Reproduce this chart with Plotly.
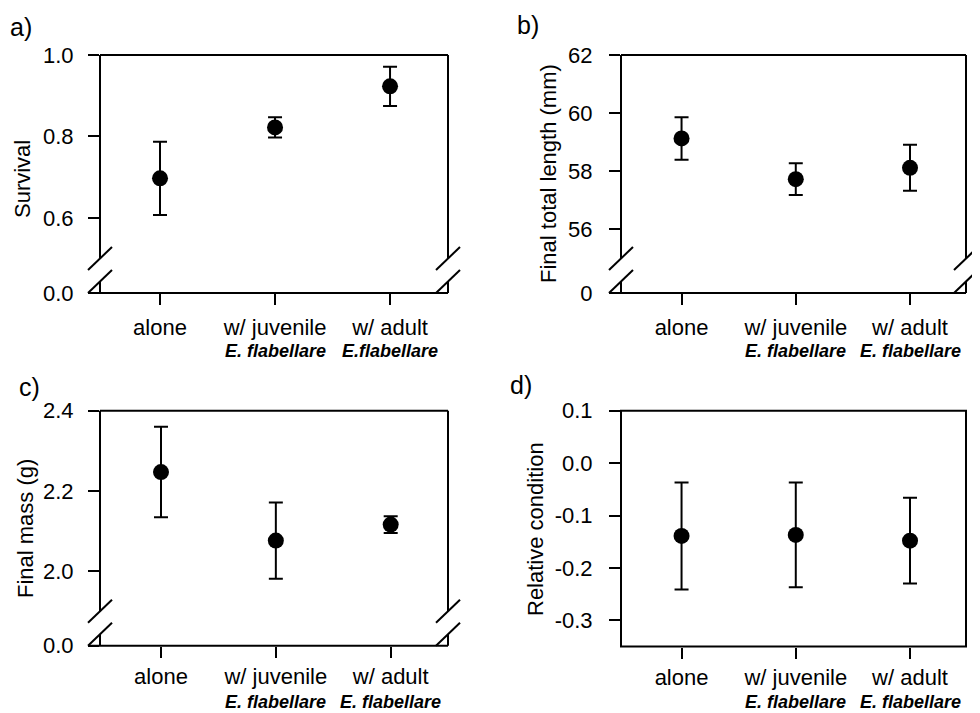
import plotly.graph_objects as go

# ---------------- data ----------------
groups = ["alone", "w/ juvenile", "w/ adult"]
species_a = ["", "E. flabellare", "E.flabellare"]
species_bcd = ["", "E. flabellare", "E. flabellare"]

survival_mean = [0.697, 0.822, 0.923]
survival_se = [0.090, 0.025, 0.048]

length_mean = [59.13, 57.73, 58.12]
length_se = [0.73, 0.55, 0.79]

mass_mean = [2.247, 2.076, 2.116]
mass_se = [0.113, 0.095, 0.021]

condition_mean = [-0.139, -0.137, -0.148]
condition_se = [0.102, 0.100, 0.082]

survival_ticks = [0.6, 0.8, 1.0]
length_ticks = [56, 58, 60, 62]
mass_ticks = [2.0, 2.2, 2.4]
condition_ticks = [0.1, 0.0, -0.1, -0.2, -0.3]

# ---------------- geometry (pixels) ----------------
W, H = 980, 713
OFF = 8  # page body margin offset
FONT = "Liberation Sans, Arial, sans-serif"


def fx(px):
    return (px - OFF) / W


def fy(py):
    return 1 - (py - OFF) / H


panels = [
    dict(label="a)", lab_xy=(8, 27), title="Survival", title_xy=(23, 179),
         mean=survival_mean, se=survival_se, ticks=survival_ticks, fmt="{:.1f}",
         yr=[0.5, 1.0], zero="0.0", species=species_a,
         x0=100, x1=448, top=55, bottom=293, xr=[-0.522, 2.504], brk=True,
         sp_y=351, standoff=10, xstand=4),
    dict(label="b)", lab_xy=(515, 25), title="Final total length (mm)", title_xy=(549, 174),
         mean=length_mean, se=length_se, ticks=length_ticks, fmt="{:d}",
         yr=[55, 62], zero="0", species=species_bcd,
         x0=621, x1=966, top=55, bottom=293, xr=[-0.53, 2.49], brk=True,
         sp_y=351, standoff=12, xstand=4),
    dict(label="c)", lab_xy=(17, 387), title="Final mass (g)", title_xy=(25, 529),
         mean=mass_mean, se=mass_se, ticks=mass_ticks, fmt="{:.1f}",
         yr=[1.9, 2.4], zero="0.0", species=species_bcd,
         x0=100, x1=448, top=410.7, bottom=645.7, xr=[-0.531, 2.499], brk=True,
         sp_y=702, standoff=10, xstand=0),
    dict(label="d)", lab_xy=(508, 385), title="Relative condition", title_xy=(535, 529),
         mean=condition_mean, se=condition_se, ticks=condition_ticks, fmt="{:.1f}",
         yr=[-0.35, 0.1], zero=None, species=species_bcd,
         x0=621, x1=966, top=410.7, bottom=646.5, xr=[-0.53, 2.49], brk=False,
         sp_y=702, standoff=12, xstand=0),
]

fig = go.Figure()
shapes = []
annotations = []
layout_axes = {}

TICKLEN = 11
BRK = 34.5  # px above bottom where the axis break sits

for i, p in enumerate(panels):
    n = i + 1
    xa = "x" if n == 1 else f"x{n}"
    ya = "y" if n == 1 else f"y{n}"
    yl = f"y{n + 4}"

    fig.add_trace(go.Scatter(
        x=groups, y=p["mean"], mode="markers",
        marker=dict(size=16, color="black"),
        error_y=dict(type="data", array=p["se"], visible=True,
                     color="black", thickness=2, width=7),
        xaxis=xa, yaxis=ya, showlegend=False, hoverinfo="skip"))

    common = dict(showgrid=False, zeroline=False, showline=False, automargin=False,
                  ticks="outside", ticklen=TICKLEN, tickwidth=2, tickcolor="black",
                  tickfont=dict(family=FONT, size=22, color="black"))

    main_bottom = p["bottom"] - BRK if p["brk"] else p["bottom"]
    layout_axes["xaxis" if n == 1 else f"xaxis{n}"] = dict(
        common, domain=[fx(p["x0"]), fx(p["x1"])], range=p["xr"],
        type="category", categoryorder="array", categoryarray=groups,
        anchor=yl if p["brk"] else ya, ticklabelstandoff=p["xstand"])
    layout_axes["yaxis" if n == 1 else f"yaxis{n}"] = dict(
        common, domain=[fy(main_bottom), fy(p["top"])], range=p["yr"],
        anchor=xa, tickmode="array", tickvals=p["ticks"],
        ticktext=[p["fmt"].format(v) for v in p["ticks"]],
        ticklabelstandoff=p["standoff"])

    if p["brk"]:
        fig.add_trace(go.Scatter(x=[], y=[], xaxis=xa, yaxis=yl,
                                 showlegend=False, hoverinfo="skip"))
        layout_axes[f"yaxis{n + 4}"] = dict(
            common, domain=[fy(p["bottom"]), fy(p["bottom"] - 12)], range=[0, 1],
            anchor=xa, tickmode="array", tickvals=[0], ticktext=[p["zero"]],
            ticklabelstandoff=p["standoff"])

    # frame
    def line(xa0, ya0, xa1, ya1):
        shapes.append(dict(type="line", xref="paper", yref="paper",
                           x0=fx(xa0), y0=fy(ya0), x1=fx(xa1), y1=fy(ya1),
                           line=dict(color="black", width=2)))

    x0, x1, top, bot = p["x0"], p["x1"], p["top"], p["bottom"]
    if p["brk"]:
        line(x0, top, x1, top)
        line(x0, top, x0, bot - BRK)
        line(x1, top, x1, bot - BRK)
        line(x0, bot - 11.5, x0, bot)
        line(x1, bot - 11.5, x1, bot)
        line(x0 - 12, bot, x1, bot)
        for xs in (x0, x1):
            line(xs - 12, bot, xs + 12, bot - 23)
            line(xs - 12, bot - 23, xs + 12, bot - 46)
    else:
        shapes.append(dict(type="rect", xref="paper", yref="paper",
                           x0=fx(x0), y0=fy(bot), x1=fx(x1), y1=fy(top),
                           line=dict(color="black", width=2)))

    # titles and labels
    annotations.append(dict(text=p["title"], x=fx(p["title_xy"][0]), y=fy(p["title_xy"][1]),
                            xref="paper", yref="paper", textangle=-90, showarrow=False,
                            xanchor="center", yanchor="middle",
                            font=dict(family=FONT, size=22, color="black")))
    annotations.append(dict(text=p["label"], x=fx(p["lab_xy"][0]), y=fy(p["lab_xy"][1]),
                            xref="paper", yref="paper", showarrow=False,
                            xanchor="left", yanchor="middle",
                            font=dict(family=FONT, size=25, color="black")))
    for g, s in zip(groups, p["species"]):
        if s:
            annotations.append(dict(text=f"<b><i>{s}</i></b>", x=g, xref=xa,
                                    y=fy(p["sp_y"]), yref="paper", showarrow=False,
                                    xanchor="center", yanchor="middle",
                                    font=dict(family=FONT, size=18, color="black")))

fig.update_layout(
    template="none",
    width=W, height=H, margin=dict(l=0, r=0, t=0, b=0, pad=0, autoexpand=False),
    paper_bgcolor="white", plot_bgcolor="white",
    shapes=shapes, annotations=annotations, showlegend=False,
    **layout_axes)

fig.write_html("out.html")
